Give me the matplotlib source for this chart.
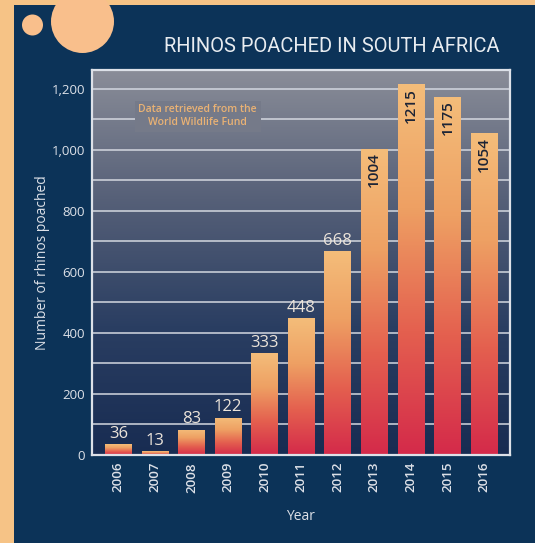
import matplotlib
matplotlib.use("Agg")
import matplotlib.pyplot as plt
import numpy as np
from matplotlib.colors import LinearSegmentedColormap
from matplotlib.patches import Circle, Rectangle

years = ["2006", "2007", "2008", "2009", "2010", "2011", "2012", "2013", "2014", "2015", "2016"]
poached = [36, 13, 83, 122, 333, 448, 668, 1004, 1215, 1175, 1054]
y_ticks = [0, 200, 400, 600, 800, 1000, 1200]
y_tick_labels = ["0", "200", "400", "600", "800", "1,000", "1,200"]

PEACH = "#f6c386"
NAVY = "#0c3358"
LIGHT = "#dde1e8"

plt.rcParams['font.family'] = ['Open Sans', 'DejaVu Sans']

fig = plt.figure(figsize=(5.35, 5.43), dpi=100)
fig.patch.set_facecolor(PEACH)
fig.patches.append(Rectangle((14 / 535, 0), 1, 538 / 543, transform=fig.transFigure,
                             facecolor=NAVY, edgecolor='none', zorder=-5))
for cx, cy, r in [(0.325, 5.18, 0.105), (0.825, 5.215, 0.315)]:
    fig.patches.append(Circle((cx, cy), r, transform=fig.dpi_scale_trans,
                              facecolor="#f9bf8c", edgecolor='none', zorder=-4))

ax = fig.add_axes([92 / 535, 88 / 543, 418 / 535, 385 / 543])
ax.set_zorder(1)

# background gradient of the plot area
bg = LinearSegmentedColormap.from_list("bg", ["#182c52", "#2a3e62", "#566078", "#8a8d98"])
ax.imshow(np.linspace(0, 1, 256).reshape(-1, 1), cmap=bg, origin='lower', aspect='auto',
          extent=[0, 1, 0, 1], transform=ax.transAxes, zorder=0)

x = np.arange(len(years))

for v in range(100, 1300, 100):
    ax.axhline(v, color="#d4d8e0", lw=1.1, zorder=1)

# bars with vertical gradient
barcm = LinearSegmentedColormap.from_list("bar", ["#d42a4a", "#e4604f", "#eea063", "#f4bd7a"])
bars = ax.bar(x, poached, width=0.73, color='none', edgecolor='none', zorder=2)
grad = np.linspace(0, 1, 256).reshape(-1, 1)
for b in bars:
    x0, w, h = b.get_x(), b.get_width(), b.get_height()
    im = ax.imshow(grad, cmap=barcm, origin='lower', aspect='auto',
                   extent=[x0, x0 + w, 0, h], zorder=2)
    im.set_clip_path(b)

for xi, v in zip(x, poached):
    if v < 1000:
        ax.text(xi, v + 8, str(v), ha='center', va='bottom', fontsize=12,
                color="#ece4da", zorder=4)
    else:
        ax.text(xi, v - 12, str(v), ha='center', va='top', rotation=90, fontsize=11,
                color="#1c2436", fontweight='semibold', zorder=4)

ax.text(2.17, 1110, "Data retrieved from the\nWorld Wildlife Fund", ha='center', va='center',
        fontsize=7.5, color="#eab274", linespacing=1.25, zorder=3, fontweight='semibold',
        bbox=dict(boxstyle='square,pad=0.35', facecolor="#757a89", edgecolor='none'))

ax.set_yticks(y_ticks)
ax.set_yticklabels(y_tick_labels)
ax.set_xticks(x)
ax.set_xticklabels(years, rotation=90, fontweight='semibold')
ax.tick_params(length=0, colors=LIGHT, labelsize=9.5, pad=5)
for s in ax.spines.values():
    s.set_color(LIGHT)
    s.set_linewidth(1.6)
ax.set_xlim(-0.72, 10.71)
ax.set_ylim(0, 1262)

ax.set_ylabel("Number of rhinos poached", color=LIGHT, fontsize=10, labelpad=1)
ax.set_xlabel("Year", color=LIGHT, fontsize=10, labelpad=12)

fig.text(500 / 535, 1 - 47 / 543, "RHINOS POACHED IN SOUTH AFRICA", ha='right', va='center',
         fontsize=14.5, color="#e8ecf0", family=['Roboto', 'DejaVu Sans'], fontstretch='condensed')

fig.savefig("out.png", dpi=100, facecolor=fig.get_facecolor())
